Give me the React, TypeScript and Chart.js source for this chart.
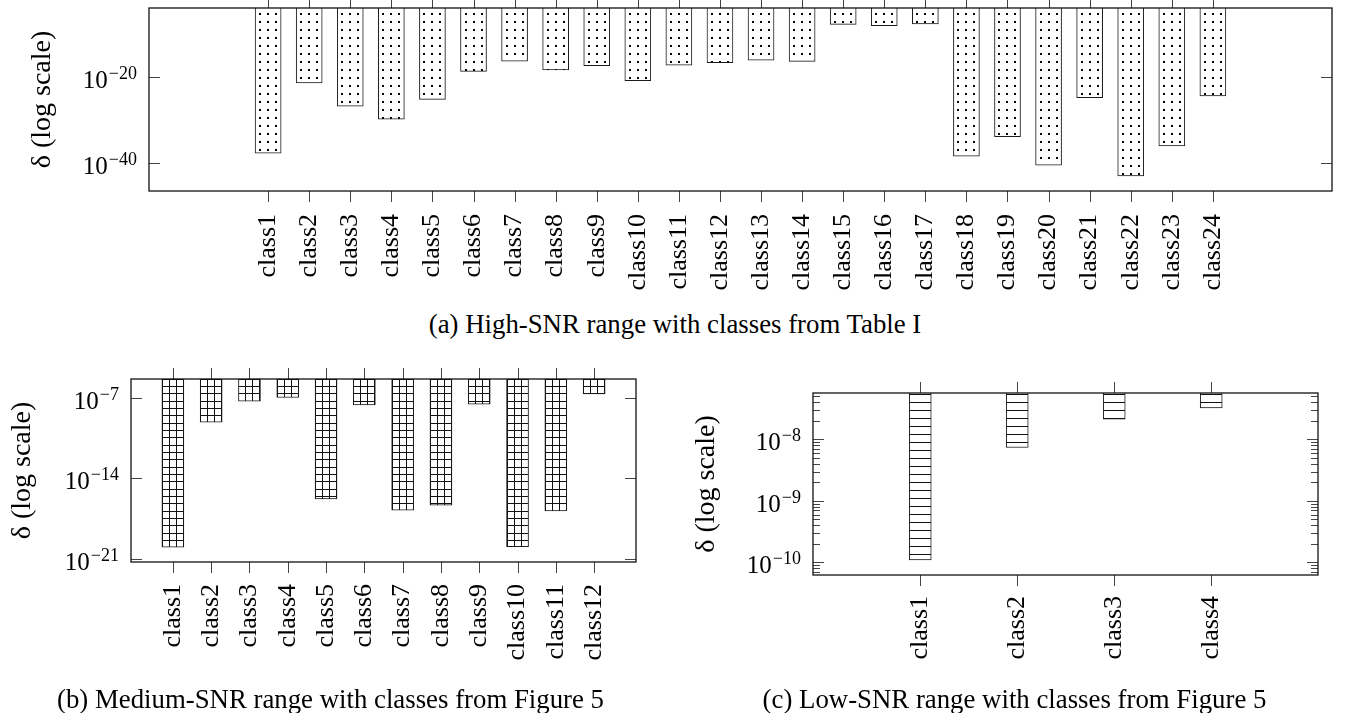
import React, { useEffect, useRef } from "react";
import { Chart, registerables } from "chart.js";

Chart.register(...registerables);

const SERIF = '"Liberation Serif", "Times New Roman", serif';

// ---------- (a) High-SNR range ----------
const highClasses = [
  "class1", "class2", "class3", "class4", "class5", "class6", "class7", "class8",
  "class9", "class10", "class11", "class12", "class13", "class14", "class15", "class16",
  "class17", "class18", "class19", "class20", "class21", "class22", "class23", "class24",
];
const highDelta = [
  2.0e-38, 4.0e-22, 1.6e-27, 1.6e-30, 6.3e-26, 2.0e-19, 4.5e-17, 4.0e-19,
  4.0e-18, 1.4e-21, 5.0e-18, 2.0e-17, 8.0e-17, 4.0e-17, 1.6e-8, 8.0e-9,
  2.0e-8, 4.0e-39, 1.3e-34, 3.2e-41, 1.6e-25, 1.0e-43, 1.0e-36, 4.0e-25,
];
const highTicks = [1e-40, 1e-20];
const highTickExponents = ["−40", "−20"];

// ---------- (b) Medium-SNR range ----------
const mediumClasses = [
  "class1", "class2", "class3", "class4", "class5", "class6",
  "class7", "class8", "class9", "class10", "class11", "class12",
];
const mediumDelta = [
  1.1e-20, 7.2e-10, 4.9e-8, 1.0e-7, 1.7e-16, 2.3e-8,
  1.8e-17, 4.9e-17, 2.7e-8, 1.26e-20, 1.5e-17, 2.0e-7,
];
const mediumTicks = [1e-21, 1e-14, 1e-7];
const mediumTickExponents = ["−21", "−14", "−7"];

// ---------- (c) Low-SNR range ----------
const lowClasses = ["class1", "class2", "class3", "class4"];
const lowDelta = [1.1e-10, 7.4e-9, 2.14e-8, 3.25e-8];
const lowTicks = [1e-10, 1e-9, 1e-8];
const lowTickExponents = ["−10", "−9", "−8"];
const lowMinorTicks = [
  7e-11, 8e-11, 9e-11,
  2e-10, 3e-10, 4e-10, 5e-10, 6e-10, 7e-10, 8e-10, 9e-10,
  2e-9, 3e-9, 4e-9, 5e-9, 6e-9, 7e-9, 8e-9, 9e-9,
  2e-8, 3e-8, 4e-8, 5e-8,
];

const tickBase = "10";
const yAxisTitle = "δ (log scale)";
const captionA = "(a) High-SNR range with classes from Table I";
const captionB = "(b) Medium-SNR range with classes from Figure 5";
const captionC = "(c) Low-SNR range with classes from Figure 5";

// ---------- pattern tiles ----------
const tileCache: Record<string, HTMLCanvasElement> = {};
function getTile(kind: string): HTMLCanvasElement {
  if (tileCache[kind]) return tileCache[kind];
  const c = document.createElement("canvas");
  const g = c.getContext("2d")!;
  if (kind === "dots") {
    c.width = 8; c.height = 8;
    g.fillStyle = "#fff"; g.fillRect(0, 0, 8, 8);
    g.fillStyle = "#000"; g.fillRect(4, 5, 2, 2);
  } else if (kind === "grid") {
    c.width = 21; c.height = 22;
    g.fillStyle = "#fff"; g.fillRect(0, 0, 21, 22);
    g.fillStyle = "#111";
    [0, 7, 14].forEach((x) => g.fillRect(x, 0, 1, 22));
    [0, 7, 14].forEach((y) => g.fillRect(0, y, 21, 1));
  } else {
    c.width = 8; c.height = 8;
    g.fillStyle = "#fff"; g.fillRect(0, 0, 8, 8);
    g.fillStyle = "#111"; g.fillRect(0, 1, 8, 1);
  }
  tileCache[kind] = c;
  return c;
}

function patternFor(ctx: any, kind: string, barWidth: number) {
  const chart = ctx.chart;
  const pat = chart.ctx.createPattern(getTile(kind), "repeat");
  const xs = chart.scales && chart.scales.x;
  const area = chart.chartArea;
  if (xs && area && typeof ctx.dataIndex === "number") {
    const px = xs.getPixelForValue(ctx.dataIndex + 1);
    if (isFinite(px) && pat && (pat as any).setTransform) {
      const left = Math.round(px - barWidth / 2);
      const top = Math.round(area.top);
      pat.setTransform(new DOMMatrix().translate(left, top));
    }
  }
  return pat || "#fff";
}

function makeFramePlugin(majors: number[], exponents: string[]) {
  return {
    id: "frameTicks",
    afterDatasetsDraw(chart: any) {
      const { ctx, chartArea: a, scales } = chart;
      const xs = scales.x, ys = scales.y;
      ctx.save();
      ctx.strokeStyle = "#444";
      ctx.lineWidth = 1;
      ctx.beginPath();
      xs.ticks.forEach((t: any) => {
        const px = Math.round(xs.getPixelForValue(t.value)) + 0.5;
        ctx.moveTo(px, a.top - 11);
        ctx.lineTo(px, a.top);
        ctx.moveTo(px, a.bottom);
        ctx.lineTo(px, a.bottom + 11);
      });
      ys.ticks.forEach((t: any) => {
        const py = Math.round(ys.getPixelForValue(t.value)) + 0.5;
        const len = majors.indexOf(t.value) >= 0 ? 11 : 7;
        ctx.moveTo(a.left, py);
        ctx.lineTo(a.left + len, py);
        ctx.moveTo(a.right - len, py);
        ctx.lineTo(a.right, py);
      });
      ctx.stroke();
      ctx.strokeStyle = "#111";
      ctx.lineWidth = 1.3;
      ctx.strokeRect(a.left, a.top, a.right - a.left, a.bottom - a.top);

      // y tick labels: 10 with a raised exponent, placed through the y scale
      ctx.fillStyle = "#000";
      ctx.textBaseline = "alphabetic";
      ctx.textAlign = "left";
      const right = a.left - 12;
      majors.forEach((v, i) => {
        const py = ys.getPixelForValue(v);
        const exp = exponents[i];
        ctx.font = `18px ${SERIF}`;
        const wE = ctx.measureText(exp).width;
        ctx.font = `25px ${SERIF}`;
        const wB = ctx.measureText(tickBase).width;
        ctx.fillText(tickBase, right - wE - wB - 1, py + 11);
        ctx.font = `18px ${SERIF}`;
        ctx.fillText(exp, right - wE, py + 2);
      });
      ctx.restore();
    },
  };
}

type PanelProps = {
  classes: string[];
  values: number[];
  yMin: number;
  yMax: number;
  xMin: number;
  xMax: number;
  majorTicks: number[];
  exponents: string[];
  minorTicks: number[];
  pattern: string;
  barWidth: number;
  left: number;
  top: number;
  width: number;
  height: number;
  padTop: number;
  padRight: number;
  yAxisWidth: number;
  xAxisHeight: number;
  titlePad: number;
  labelPad: number;
};

function Panel(p: PanelProps) {
  const ref = useRef<HTMLCanvasElement>(null);
  useEffect(() => {
    const canvas = ref.current;
    if (!canvas) return;
    const allY = [...p.majorTicks, ...p.minorTicks].sort((a, b) => a - b);
    const zeroPad = (s: any) => {
      s.paddingLeft = 0;
      s.paddingRight = 0;
      s.paddingTop = 0;
      s.paddingBottom = 0;
    };
    const chart = new Chart(canvas, {
      type: "bar",
      data: {
        datasets: [
          {
            data: p.values.map((v, i) => ({ x: i + 1, y: v })),
            base: p.yMax,
            barThickness: p.barWidth,
            borderWidth: 1,
            borderColor: "#1a1a1a",
            borderSkipped: "start",
            backgroundColor: (c: any) => patternFor(c, p.pattern, p.barWidth),
          } as any,
        ],
      },
      options: {
        responsive: false,
        animation: false,
        devicePixelRatio: 1,
        layout: { padding: { left: 0, top: p.padTop, right: p.padRight, bottom: 0 } },
        plugins: { legend: { display: false }, tooltip: { enabled: false } },
        scales: {
          x: {
            type: "linear",
            min: p.xMin,
            max: p.xMax,
            bounds: "data",
            grid: { display: false, drawTicks: false },
            border: { display: false },
            ticks: {
              autoSkip: false,
              minRotation: 90,
              maxRotation: 90,
              padding: p.labelPad,
              color: "#000",
              font: { family: SERIF, size: 26 },
              callback: (v: any) => p.classes[Number(v) - 1] ?? "",
            },
            afterBuildTicks: (s: any) => {
              s.ticks = p.classes.map((_, i) => ({ value: i + 1 }));
            },
            afterFit: (s: any) => {
              s.height = p.xAxisHeight;
              zeroPad(s);
            },
          },
          y: {
            type: "logarithmic",
            min: p.yMin,
            max: p.yMax,
            bounds: "data",
            grid: { display: false, drawTicks: false },
            border: { display: false },
            ticks: { display: false, autoSkip: false },
            title: {
              display: true,
              text: yAxisTitle,
              color: "#000",
              font: { family: SERIF, size: 28 },
              padding: { top: p.titlePad, bottom: 0 },
            },
            afterBuildTicks: (s: any) => {
              s.ticks = allY.map((v) => ({ value: v, major: p.majorTicks.indexOf(v) >= 0 }));
            },
            afterFit: (s: any) => {
              s.width = p.yAxisWidth;
              zeroPad(s);
            },
          },
        },
      } as any,
      plugins: [makeFramePlugin(p.majorTicks, p.exponents)],
    });
    return () => chart.destroy();
  }, []);
  return (
    <canvas
      ref={ref}
      width={p.width}
      height={p.height}
      style={{ position: "absolute", left: p.left, top: p.top, width: p.width, height: p.height }}
    />
  );
}

function Caption({ text, center, top }: { text: string; center: number; top: number }) {
  return (
    <div
      style={{
        position: "absolute",
        left: center - 350,
        width: 700,
        top,
        textAlign: "center",
        fontFamily: SERIF,
        fontSize: 26.8,
        lineHeight: "26.8px",
        color: "#000",
        whiteSpace: "nowrap",
        zIndex: 2,
      }}
    >
      {text}
    </div>
  );
}

export default function App() {
  return (
    <div
      style={{
        position: "absolute",
        left: 0,
        top: 0,
        width: 1345,
        height: 713,
        overflow: "hidden",
        background: "#fff",
      }}
    >
      <Panel
        classes={highClasses}
        values={highDelta}
        yMin={3.2e-47}
        yMax={1e-4}
        xMin={-1.3}
        xMax={26.3}
        majorTicks={highTicks}
        exponents={highTickExponents}
        minorTicks={[]}
        pattern="dots"
        barWidth={26}
        left={0}
        top={0}
        width={1345}
        height={300}
        padTop={8}
        padRight={13}
        yAxisWidth={149}
        xAxisHeight={109}
        titlePad={25.7}
        labelPad={23}
      />
      <Panel
        classes={mediumClasses}
        values={mediumDelta}
        yMin={5.8e-22}
        yMax={4e-6}
        xMin={0.456}
        xMax={12.544}
        majorTicks={mediumTicks}
        exponents={mediumTickExponents}
        minorTicks={[]}
        pattern="grid"
        barWidth={22}
        left={0}
        top={360}
        width={661}
        height={353}
        padTop={19}
        padRight={25}
        yAxisWidth={131}
        xAxisHeight={151}
        titlePad={6.2}
        labelPad={22}
      />
      <Panel
        classes={lowClasses}
        values={lowDelta}
        yMin={6.25e-11}
        yMax={5.7e-8}
        xMin={0.545}
        xMax={4.45}
        majorTicks={lowTicks}
        exponents={lowTickExponents}
        minorTicks={lowMinorTicks}
        pattern="hlines"
        barWidth={22}
        left={680}
        top={360}
        width={665}
        height={353}
        padTop={33}
        padRight={27}
        yAxisWidth={133}
        xAxisHeight={138}
        titlePad={9.7}
        labelPad={21}
      />
      <Caption text={captionA} center={675} top={311} />
      <Caption text={captionB} center={330.5} top={686} />
      <Caption text={captionC} center={1014.5} top={686} />
    </div>
  );
}
